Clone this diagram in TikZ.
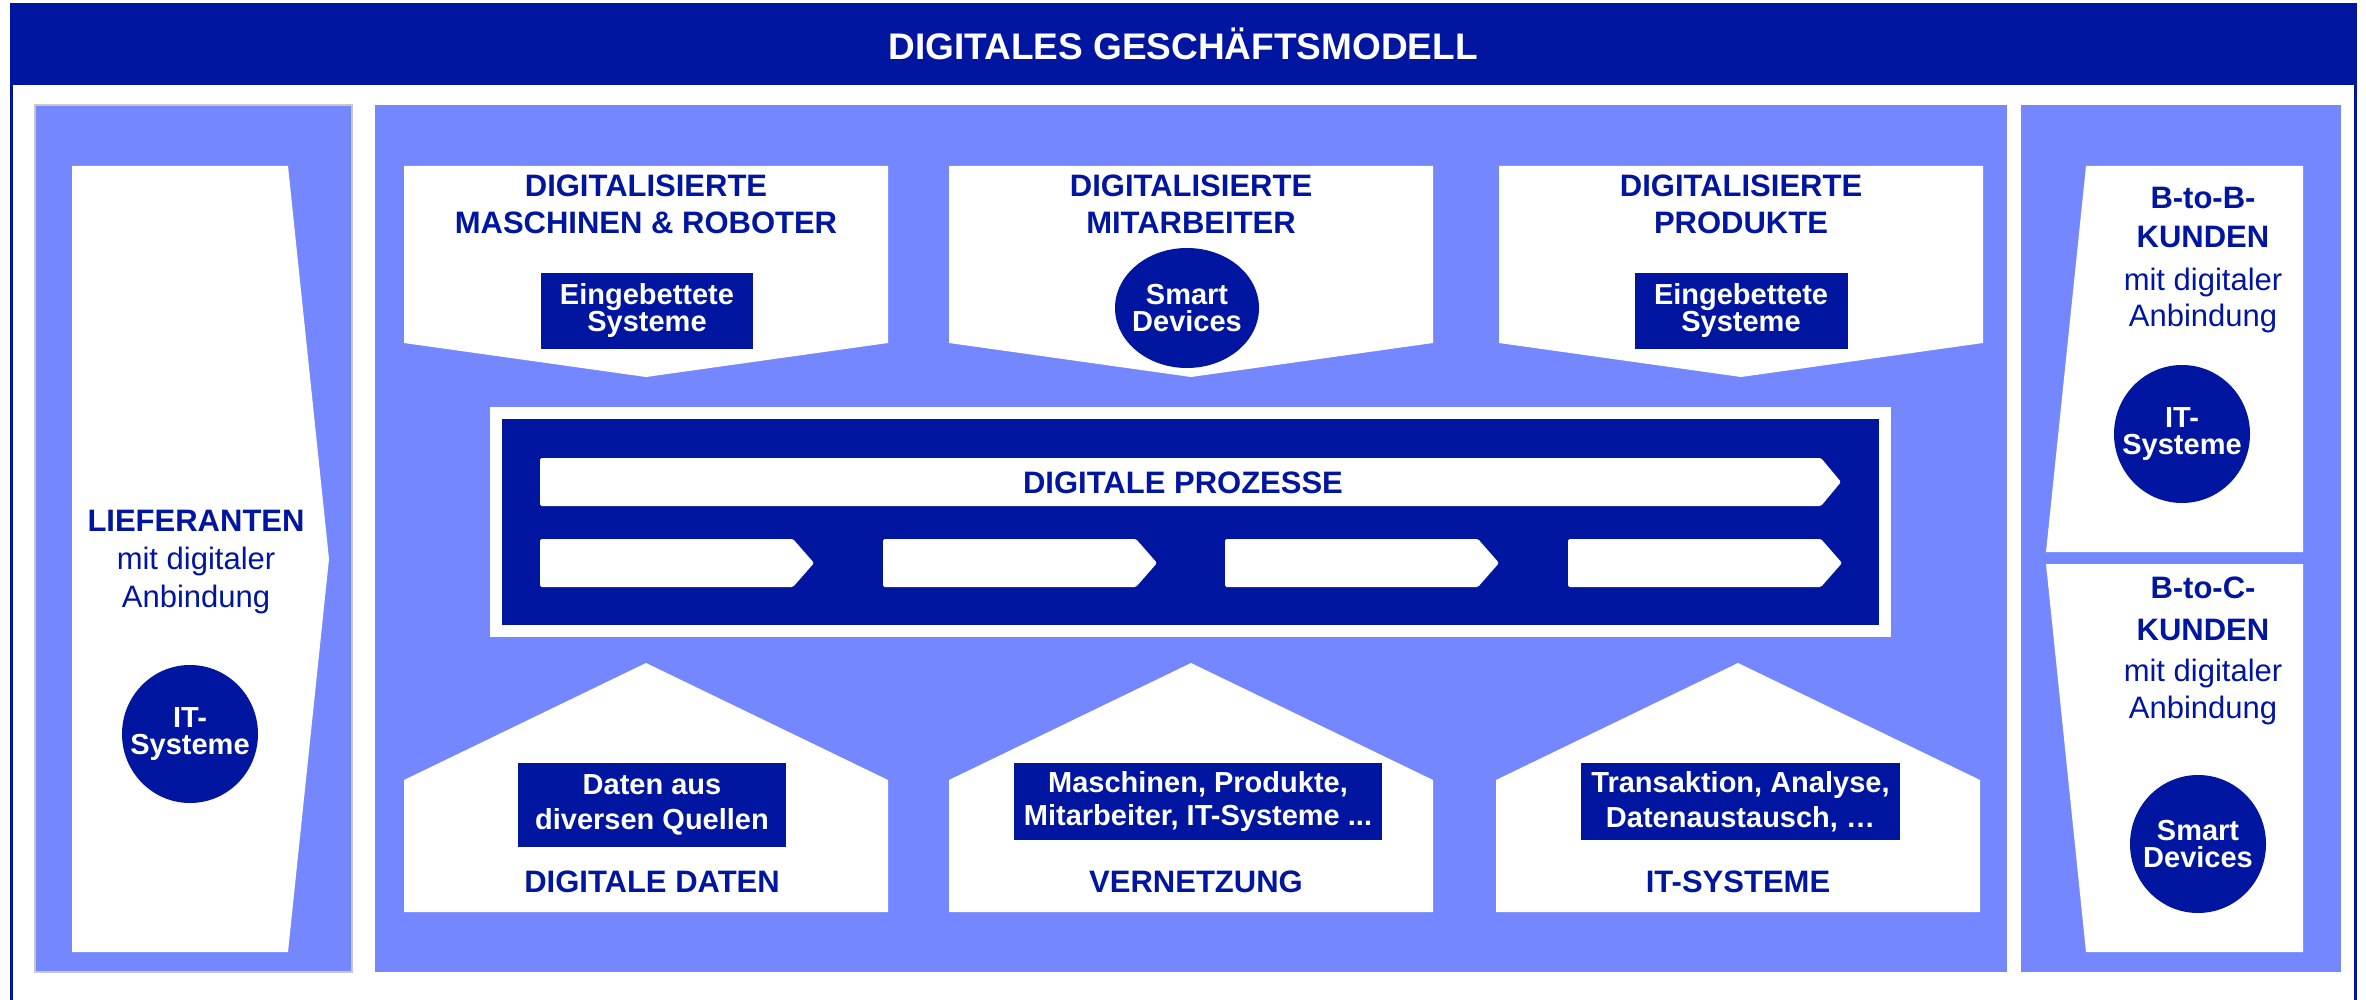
\documentclass[tikz,border=0pt]{standalone}
\usepackage{fontspec}
\setmainfont{Liberation Sans}
\usetikzlibrary{shapes.geometric}
\definecolor{navy}{RGB}{0,22,160}
\definecolor{lblue}{RGB}{117,135,255}
\definecolor{pgray}{RGB}{200,200,200}
\begin{document}
\begin{tikzpicture}[x=1pt,y=-1pt,
  hdr/.style={font=\fontsize{31}{37}\selectfont\bfseries, text=navy, inner sep=0},
  sub/.style={font=\fontsize{31}{37}\selectfont, text=navy, inner sep=0},
  wbox/.style={rectangle, fill=navy, text=white, font=\fontsize{29}{27}\selectfont\bfseries, align=center, inner sep=0},
  wtext/.style={text=white, font=\fontsize{29}{27}\selectfont\bfseries, align=center, inner sep=0},
  navyell/.style={ellipse, fill=navy, inner sep=0},
  whitearrow/.style={fill=white, rounded corners=1.5}
]
\useasboundingbox (0,0) rectangle (2366,1000);
% frame
\fill[navy] (10,3) rectangle (2357,85);
\node[font=\fontsize{37}{40}\selectfont\bfseries, text=white, inner sep=0] (title) at (1183,44) {DIGITALES GESCHÄFTSMODELL};
\draw[navy, line width=3] (11.5,85) -- (11.5,1000);
\draw[navy, line width=3] (2355.5,85) -- (2355.5,1000);
% panels
\filldraw[fill=lblue, draw=pgray, line width=2] (35,105) rectangle (352,972);
\fill[lblue] (375,105) rectangle (2007,972);
\fill[lblue] (2021,105) rectangle (2341,972);
% left and right white shapes
\fill[white] (72,166) -- (288,166) -- (329,559) -- (288,952) -- (72,952) -- cycle;
\fill[white] (2086,166) -- (2303,166) -- (2303,552) -- (2046,552) -- cycle;
\fill[white] (2046,564) -- (2303,564) -- (2303,952) -- (2086,952) -- cycle;
% top pentagons
\foreach \cx in {646,1191,1741}{
  \fill[white] ({\cx-242},166) -- ({\cx+242},166) -- ({\cx+242},343) -- (\cx,377) -- ({\cx-242},343) -- cycle;
}
% houses
\foreach \cx in {646,1191,1738}{
  \fill[white] ({\cx-242},912) -- ({\cx-242},780) -- (\cx,663) -- ({\cx+242},780) -- ({\cx+242},912) -- cycle;
}
% process block
\fill[white] (490,407) rectangle (1891,637);
\fill[navy] (502,419) rectangle (1879,625);
\fill[whitearrow] (540,458) -- (1821,458) -- (1841,482) -- (1821,506) -- (540,506) -- cycle;
\foreach \s in {540,883,1225,1568}{
  \fill[whitearrow] (\s,539) -- ({\s+253},539) -- ({\s+274},563) -- ({\s+253},587) -- (\s,587) -- cycle;
}
\node[hdr] (dp) at (1183,483) {DIGITALE PROZESSE};
% top box texts
\node[hdr] (t1a) at (646,186) {DIGITALISIERTE};
\node[hdr] (t1b) at (646,223) {MASCHINEN \& ROBOTER};
\node[hdr] (t2a) at (1191,186) {DIGITALISIERTE};
\node[hdr] (t2b) at (1191,223) {MITARBEITER};
\node[hdr] (t3a) at (1741,186) {DIGITALISIERTE};
\node[hdr] (t3b) at (1741,223) {PRODUKTE};
\node[wbox, minimum width=212, minimum height=76] (eb1) at (647,311) {Eingebettete\\Systeme};
\node[wbox, minimum width=213, minimum height=76] (eb3) at (1741,311) {Eingebettete\\Systeme};
\node[navyell, minimum width=144, minimum height=120] (sd1) at (1187,308) {};
\node[wtext] (sd1t) at (sd1.center) {Smart\\Devices};
% house texts
\node[wbox, minimum width=268, minimum height=84, font=\fontsize{29}{35}\selectfont\bfseries] (h1b) at (652,805) {Daten aus\\diversen Quellen};
\node[wbox, minimum width=368, minimum height=77, font=\fontsize{29}{33}\selectfont\bfseries] (h2b) at (1198,801.5) {Maschinen, Produkte,\\Mitarbeiter, IT-Systeme ...};
\node[wbox, minimum width=319, minimum height=77, font=\fontsize{29}{35}\selectfont\bfseries] (h3b) at (1740.5,801.5) {Transaktion, Analyse,\\Datenaustausch, …};
\node[hdr] (h1) at (652,882) {DIGITALE DATEN};
\node[hdr] (h2) at (1196,882) {VERNETZUNG};
\node[hdr] (h3) at (1738,882) {IT-SYSTEME};
% left
\node[hdr] (lf1) at (196,521) {LIEFERANTEN};
\node[sub] (lf2) at (196,561) {mit digitaler};
\node[sub] (lf3) at (196,599) {Anbindung};
\node[navyell, minimum width=136, minimum height=138] (lfc) at (190,734) {};
\node[wtext] (lfct) at (lfc.center) {IT-\\Systeme};
% right
\node[hdr] (bb1) at (2203,198) {B-to-B-};
\node[hdr] (bb2) at (2203,237) {KUNDEN};
\node[sub] (bb3) at (2203,282) {mit digitaler};
\node[sub] (bb4) at (2203,318) {Anbindung};
\node[navyell, minimum width=136, minimum height=138] (bbc) at (2182,434) {};
\node[wtext] (bbct) at (bbc.center) {IT-\\Systeme};
\node[hdr] (bc1) at (2203,588) {B-to-C-};
\node[hdr] (bc2) at (2203,630) {KUNDEN};
\node[sub] (bc3) at (2203,673) {mit digitaler};
\node[sub] (bc4) at (2203,710) {Anbindung};
\node[navyell, minimum width=136, minimum height=138] (bcc) at (2198,844) {};
\node[wtext] (bcct) at (bcc.center) {Smart\\Devices};
\end{tikzpicture}
\end{document}
